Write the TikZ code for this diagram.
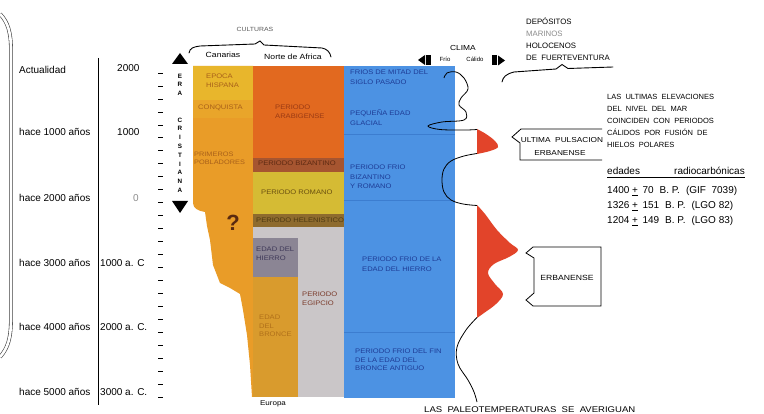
\documentclass[tikz,border=0pt]{standalone}
\usepackage{fontspec}
\setmainfont{Liberation Sans}
\newfontfamily\widefont[FakeStretch=1.15]{Liberation Sans}
\definecolor{hisp}{HTML}{E8B62C}
\definecolor{conq}{HTML}{E9A52A}
\definecolor{canor}{HTML}{E99C28}
\definecolor{arab}{HTML}{E2691F}
\definecolor{bizan}{HTML}{A65530}
\definecolor{roman}{HTML}{D5BB34}
\definecolor{helen}{HTML}{8E6B2E}
\definecolor{egip}{HTML}{CAC6C8}
\definecolor{hierro}{HTML}{8B8594}
\definecolor{bronce}{HTML}{D99B2D}
\definecolor{azul}{HTML}{4C92E3}
\definecolor{azulline}{HTML}{3C7DD0}
\definecolor{rojo}{HTML}{E2442A}
\definecolor{azultxt}{HTML}{1E3C96}
\definecolor{ctxt}{HTML}{A8601A}
\definecolor{qcol}{HTML}{5A2A10}
\definecolor{arabtxt}{HTML}{9A3A14}
\definecolor{biztxt}{HTML}{5E2A12}
\definecolor{romtxt}{HTML}{6A5010}
\definecolor{heltxt}{HTML}{4E3A12}
\definecolor{hiertxt}{HTML}{3E3858}
\definecolor{egitxt}{HTML}{7A3A2A}
\definecolor{brotxt}{HTML}{B0701A}
\begin{document}
\begin{tikzpicture}[x=1pt,y=-1pt,
  lt/.style={anchor=west, inner sep=0pt, font=\fontsize{10}{12}\selectfont},
  ct/.style={anchor=north west, inner sep=0pt, align=left, font=\widefont\fontsize{6.6}{9}\selectfont, text=ctxt},
  bt/.style={ct, text=azultxt, font=\widefont\fontsize{6.6}{9.5}\selectfont},
  rt/.style={anchor=north west, inner sep=0pt, align=left, font=\fontsize{7.8}{11.7}\selectfont},
  era/.style={inner sep=0pt, font=\fontsize{6.3}{6}\selectfont\bfseries},
  brace/.style={line width=0.9pt, line cap=round},
  tick/.style={line width=0.6pt}]
\useasboundingbox (0,0) rectangle (764,414);
\fill[white] (0,0) rectangle (764,414);

% left double bracket
\draw[double=white, double distance=2.6pt, line width=0.6pt, black!75]
  (0,14) .. controls (8,22) and (11,33) .. (11,50) -- (11,318) .. controls (11,338) and (8,348) .. (0,357);

% left labels
\node[lt] (a0) at (19,70) {Actualidad};
\node[lt] (a1) at (19,132) {hace 1000 años};
\node[lt] (a2) at (19,198) {hace 2000 años};
\node[lt] (a3) at (19,263) {hace 3000 años};
\node[lt] (a4) at (19,327) {hace 4000 años};
\node[lt] (a5) at (19,392) {hace 5000 años};
\draw[line width=0.8pt] (98,58) -- (98,405);
\node[lt] (b0) at (117,68) {2000};
\node[lt] (b1) at (117,132) {1000};
\node[lt, text=black!45] (b2) at (133,198) {0};
\node[lt] (b3) at (100,263) {1000 a. C};
\node[lt] (b4) at (100,327) {2000 a. C.};
\node[lt] (b5) at (100,392) {3000 a. C.};

% ticks
\foreach \i in {0,...,25} { \draw[tick] (158,73+12.96*\i) -- (163,73+12.96*\i); }

% era cristiana
\fill (180,53) -- (188,64) -- (172,64) -- cycle;
\fill (180,213) -- (188,201) -- (172,201) -- cycle;
\node[era] (e1) at (180,76) {E};
\node[era] (e2) at (180,84.5) {R};
\node[era] (e3) at (180,93) {A};
\foreach \l [count=\k from 0] in {C,R,I,S,T,I,A,N,A} { \node[era] (c\k) at (180,120+8.8*\k) {\l}; }

% CULTURAS brace
\node[inner sep=0pt, font=\widefont\fontsize{6}{6}\selectfont, text=black!65] (cult) at (255,29) {CULTURAS};
\draw[brace] (189,53) .. controls (190,48) and (193,47) .. (200,46) -- (255,44) -- (260,41) -- (264,45) -- (322,48) .. controls (327,49) and (330,52) .. (331,57);
\node[inner sep=0pt, font=\widefont\fontsize{7.5}{8}\selectfont] (can) at (223,55) {Canarias};
\node[inner sep=0pt, font=\widefont\fontsize{7.5}{8}\selectfont] (nda) at (293,57) {Norte\ de\ Africa};

% Canarias
\fill[canor] (193,66) -- (253,66) -- (253,397) -- (252,397) -- (250,365) -- (247,335) -- (243,310) -- (240,294) -- (230,288) -- (220,283) -- (213,265) -- (210,240) -- (207,226) -- (205,212) .. controls (198,211) and (193,208) .. (193,203) -- cycle;
\fill[hisp] (193,66) rectangle (253,100);
\fill[conq] (193,100) rectangle (253,118);
\node[ct] (t1) at (206,74) {EPOCA\\HISPANA};
\node[ct] (t2) at (198,105) {CONQUISTA};
\node[ct, font=\widefont\fontsize{6.4}{8}\selectfont] (t3) at (194,152) {PRIMEROS\\POBLADORES};
\node[inner sep=0pt, font=\fontsize{22}{22}\selectfont\bfseries, text=qcol] (q) at (233,223) {?};

% Norte de Africa
\fill[arab] (253,66) rectangle (344,158);
\fill[bizan] (253,158) rectangle (344,172);
\fill[roman] (253,172) rectangle (344,214);
\fill[helen] (253,214) rectangle (344,227);
\fill[egip] (253,227) rectangle (344,397);
\fill[hierro] (253,238) rectangle (298,277);
\fill[bronce] (253,277) rectangle (298,397);
\node[ct, text=arabtxt] (n1) at (275,105) {PERIODO\\ARABIGENSE};
\node[ct, text=biztxt] (n2) at (258,161) {PERIODO BIZANTINO};
\node[ct, text=romtxt] (n3) at (261,190) {PERIODO ROMANO};
\node[ct, text=heltxt] (n4) at (256,218) {PERIODO HELENISTICO};
\node[ct, text=hiertxt] (n5) at (256,247) {EDAD DEL\\HIERRO};
\node[ct, text=egitxt] (n6) at (302,292) {PERIODO\\EGIPCIO};
\node[ct, text=brotxt, font=\widefont\fontsize{6.6}{8.5}\selectfont] (n7) at (259,315) {EDAD\\DEL\\BRONCE};
\node[inner sep=0pt, font=\widefont\fontsize{7}{8}\selectfont] (eur) at (273,404) {Europa};

% blue column
\fill[azul] (344,66) rectangle (455,398);
\foreach \yy in {134,200,332} { \draw[azulline, line width=0.7pt] (344,\yy) -- (455,\yy); }
\node[bt] (z1) at (350,70) {FRIOS DE MITAD DEL\\SIGLO PASADO};
\node[bt] (z2) at (350,110) {PEQUEÑA EDAD\\GLACIAL};
\node[bt] (z3) at (350,165) {PERIODO FRIO\\BIZANTINO\\Y ROMANO};
\node[bt] (z4) at (362,257) {PERIODO FRIO DE LA\\EDAD DEL HIERRO};
\node[bt, font=\widefont\fontsize{6.6}{8.2}\selectfont] (z5) at (355,349) {PERIODO FRIO DEL FIN\\DE LA EDAD DEL\\BRONCE ANTIGUO};

% red warm pulses
\fill[rojo] plot[smooth, tension=0.6] coordinates {(477,129) (486,134) (495,141) (498,147) (490,151) (477,154)} -- cycle;
\fill[rojo] plot[smooth, tension=0.6] coordinates {(477,205) (485,214) (497,230) (510,243) (518,250) (509,257) (494,264) (488,273) (495,284) (503,294) (496,304) (484,313) (477,318)} -- cycle;

% climate curve
\draw[line width=0.8pt] plot[smooth, tension=0.6] coordinates {(444,78) (447,73) (456,72) (464,78) (468,89) (461,98) (459,105) (466,112) (464,120) (442,122) (428,126) (440,129.5) (465,130) (477,129.5)};
\draw[line width=0.8pt] plot[smooth, tension=0.6] coordinates {(477,153.5) (464,156) (451,161) (444,169) (442,180) (444,192) (451,200) (463,204) (477,205.5)};
\draw[line width=0.8pt] plot[smooth, tension=0.6] coordinates {(477,317.5) (466,330) (457,347) (458,364) (468,380) (474,392) (477,402)};

% clima legend
\node[inner sep=0pt, font=\widefont\fontsize{7.3}{8}\selectfont] (clima) at (463,48) {CLIMA};
\node[inner sep=0pt, font=\fontsize{6}{7}\selectfont] (frio) at (445,59) {Frío};
\node[inner sep=0pt, font=\fontsize{6}{7}\selectfont] (calido) at (475,59.5) {Cálido};
\fill (418,60) -- (425,55) -- (425,65) -- cycle;
\fill (426,55) rectangle (431,65);
\fill (492,55.5) rectangle (497,65.5);
\fill (498,55.5) -- (505,60.5) -- (498,65.5) -- cycle;

% depositos
\node[rt] (d1) at (526,18) {DEPÓSITOS\\{\color{black!45}MARINOS}\\HOLOCENOS\\DE\ \ FUERTEVENTURA};
\draw[brace] (502,82) .. controls (503,77) and (506,74) .. (514,72) -- (556,69) -- (562,64.5) -- (568,68.5) -- (613,67);

\node[rt, font=\fontsize{7.5}{12}\selectfont] (m1) at (607,94) {LAS\ \ ULTIMAS\ \ ELEVACIONES\\DEL\ \ NIVEL\ \ DEL\ \ MAR\\COINCIDEN\ \ CON\ \ PERIODOS\\CÁLIDOS\ \ POR\ \ FUSIÓN\ \ DE\\HIELOS\ \ POLARES};

% ultima pulsacion box
\draw[line width=0.8pt] (602,129) -- (521,129) -- (512,137) -- (520,143) -- (520,160) -- (602,160);
\node[inner sep=0pt, font=\widefont\fontsize{7.2}{8}\selectfont] (up1) at (562,140) {ULTIMA\ \ PULSACION};
\node[inner sep=0pt, font=\widefont\fontsize{7.2}{8}\selectfont] (up2) at (560,153) {ERBANENSE};

% erbanense box
\draw[line width=0.8pt] (601,247) -- (533,247) -- (526,253) -- (534,258) -- (534,293) -- (526,300) -- (533,306) -- (601,306) -- cycle;
\node[inner sep=0pt, font=\widefont\fontsize{7.5}{8}\selectfont] (erb) at (567,278) {ERBANENSE};

% radiocarbon ages
\node[anchor=base west, inner sep=0pt, font=\fontsize{10}{10}\selectfont] (r0) at (607,175) {edades};
\node[anchor=base east, inner sep=0pt, font=\fontsize{10}{10}\selectfont] (r0b) at (745,175) {radiocarbónicas};
\draw[line width=1pt] (607,178) -- (745,178);
\node[anchor=base west, inner sep=0pt, font=\fontsize{10}{10}\selectfont] (r1) at (607,194) {1400 \underline{+}\, 70\hspace{6pt}B. P.\hspace{6pt}(GIF\ \ 7039)};
\node[anchor=base west, inner sep=0pt, font=\fontsize{10}{10}\selectfont] (r2) at (607,209) {1326 \underline{+}\, 151\hspace{6pt}B. P.\hspace{6pt}(LGO 82)};
\node[anchor=base west, inner sep=0pt, font=\fontsize{10}{10}\selectfont] (r3) at (607,224) {1204 \underline{+}\, 149\hspace{6pt}B. P.\hspace{6pt}(LGO 83)};

% bottom text
\node[anchor=base west, inner sep=0pt, font=\widefont\fontsize{8.3}{8}\selectfont] (bot) at (424,412.5) {LAS\ \ PALEOTEMPERATURAS\ \ SE\ \ AVERIGUAN};
\end{tikzpicture}
\end{document}
